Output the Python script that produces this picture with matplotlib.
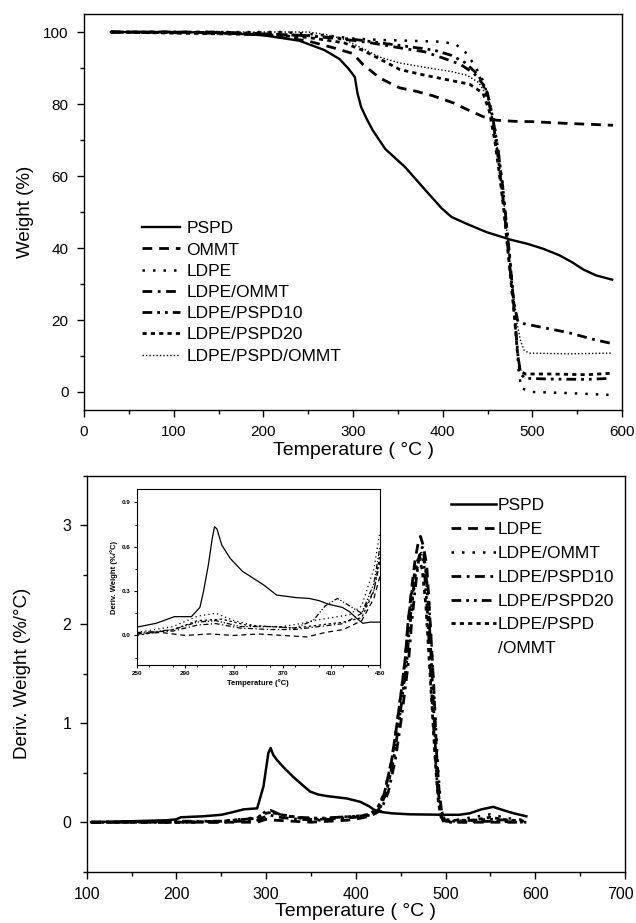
import matplotlib.pyplot as plt
from matplotlib.ticker import MultipleLocator, FixedLocator, FormatStrFormatter
from matplotlib.transforms import ScaledTranslation

plt.rcParams['font.family'] = ['Liberation Sans', 'DejaVu Sans']

# ---- TGA (top) ----
pspd_t = [30, 100, 150, 200, 240, 268, 285, 295, 302, 305, 309, 315, 322, 336, 358, 381,
          399, 410, 426, 449, 476, 494, 512, 530, 544, 557, 571, 589]
pspd_w = [100, 100, 99.8, 99.1, 97.6, 95, 92.5, 89.8, 87.5, 83, 79.2, 76, 72.7, 67.5, 62.5, 56,
          51, 48.6, 46.8, 44.4, 42.3, 41.2, 39.8, 38, 36.1, 34, 32.4, 31.2]

ommt_t = [30, 100, 150, 200, 250, 280, 300, 311, 330, 352, 371, 389, 412, 427, 445, 460, 480,
          500, 540, 590]
ommt_w = [100, 100, 99.8, 99.2, 97.5, 95.5, 94, 91, 87.2, 84.5, 83.5, 82.3, 80.3, 78.5, 76.5,
          75.5, 75.2, 75.1, 74.6, 74.1]

ldpe_t = [30, 150, 220, 250, 280, 300, 330, 360, 400, 415, 425, 435, 445, 452, 458, 463, 468,
          472, 476, 479, 482, 485, 488, 500, 540, 585]
ldpe_w = [100, 100, 100, 99.5, 98.8, 98.2, 97.8, 97.6, 97.3, 96.5, 94.5, 91, 86.5, 81, 74, 65,
          55, 45, 35, 25, 15, 5, 1, 0, -0.3, -0.8]

lo_t = [30, 150, 200, 250, 290, 320, 350, 380, 400, 420, 435, 445, 452, 458, 463, 468, 472,
        476, 480, 484, 490, 510, 540, 570, 588]
lo_w = [100, 100, 99.5, 99, 98, 97, 95.7, 94.5, 92.8, 91, 88.5, 85.5, 80, 72, 63, 52, 42,
        32, 24, 19.5, 19, 18, 16.5, 14.5, 13.5]

lp10_t = [30, 200, 250, 300, 330, 360, 390, 410, 425, 440, 450, 456, 462, 467, 471, 475, 478,
          481, 484, 487, 492, 520, 560, 588]
lp10_w = [100, 99.5, 99, 98, 97, 96, 95, 93.5, 91.5, 88, 83, 76, 67, 57, 47, 37, 28,
          19, 10, 5, 3.8, 3.6, 3.5, 3.8]

lp20_t = [30, 200, 250, 290, 310, 330, 352, 380, 410, 430, 445, 452, 458, 463, 468, 472, 476,
          480, 483, 486, 492, 520, 560, 588]
lp20_w = [100, 99.3, 98.5, 97, 95, 92.5, 89.6, 88, 86.5, 85.5, 83, 78, 70, 61, 51, 41, 31,
          21, 12, 6, 5, 5, 4.8, 5.2]

lpo_t = [30, 200, 250, 270, 290, 310, 330, 352, 380, 410, 427, 440, 450, 456, 462, 467, 471,
         475, 479, 483, 487, 491, 497, 540, 588]
lpo_w = [100, 100, 100, 99.3, 98, 95.5, 93, 91.4, 90.2, 89, 88, 86, 82, 75, 66, 56, 46,
         36, 27, 19, 14, 11.5, 10.8, 10.6, 10.8]

# ---- DTG (bottom) ----
d_pspd_t = [105, 150, 190, 200, 205, 230, 250, 262, 275, 290, 297, 302.5, 305, 308, 312, 320,
            330, 340, 349, 358, 368, 390, 405, 415, 420, 427, 440, 460, 500, 515, 527, 540,
            553, 565, 576, 590]
d_pspd_d = [0, 0.01, 0.02, 0.03, 0.05, 0.06, 0.075, 0.1, 0.13, 0.14, 0.36, 0.70, 0.75, 0.68,
            0.63, 0.55, 0.46, 0.38, 0.31, 0.28, 0.264, 0.24, 0.206, 0.16, 0.128, 0.105, 0.09,
            0.08, 0.075, 0.075, 0.09, 0.13, 0.155, 0.12, 0.09, 0.06]

d_ldpe_t = [105, 150, 200, 250, 290, 300, 310, 330, 350, 370, 390, 405, 415, 425, 432, 440,
            446, 451, 455, 458, 462, 466, 470, 472, 475, 479, 483, 487, 490, 493, 496, 500,
            520, 560, 590]
d_ldpe_d = [0, 0, 0, 0, 0, 0.03, 0.02, 0.01, 0, 0.01, 0.02, 0.04, 0.06, 0.12, 0.3, 0.63,
            1.0, 1.35, 1.65, 2.0, 2.35, 2.65, 2.85, 2.89, 2.8, 2.6, 2.0, 1.35, 0.7, 0.3, 0.08,
            0.01, 0, 0, 0]

d_lo_t = [105, 200, 250, 290, 300, 310, 330, 350, 380, 400, 415, 427, 434, 442, 448, 453, 457,
          460, 464, 468, 472, 474, 477, 481, 485, 489, 492, 495, 498, 510, 530, 550, 570, 590]
d_lo_d = [0, 0, 0.01, 0.05, 0.1, 0.09, 0.05, 0.03, 0.03, 0.05, 0.08, 0.14, 0.3, 0.63, 1.0, 1.35,
          1.65, 1.95, 2.3, 2.55, 2.68, 2.7, 2.6, 2.3, 1.7, 1.0, 0.5, 0.15, 0.03, 0.02, 0.05,
          0.08, 0.04, 0.02]

d_lp10_t = [105, 200, 250, 290, 300, 305, 315, 335, 360, 380, 400, 418, 428, 436, 444, 450,
            455, 459, 462, 466, 470, 474, 475, 478, 482, 486, 489, 492, 495, 498, 510, 550,
            590]
d_lp10_d = [0, 0, 0, 0.02, 0.06, 0.07, 0.05, 0.03, 0.02, 0.04, 0.05, 0.07, 0.12, 0.3, 0.63,
            1.0, 1.35, 1.65, 2.0, 2.35, 2.65, 2.78, 2.76, 2.55, 2.0, 1.3, 0.7, 0.3, 0.08,
            0.0, 0.0, 0.01, 0.0]

d_lp20_t = [105, 200, 250, 290, 298, 305, 315, 335, 360, 380, 400, 416, 426, 434, 442, 448,
            453, 457, 460, 464, 468, 471, 473, 476, 480, 484, 488, 491, 494, 497, 510, 550,
            590]
d_lp20_d = [0, 0.01, 0.01, 0.04, 0.1, 0.12, 0.08, 0.05, 0.04, 0.05, 0.06, 0.07, 0.13, 0.3,
            0.63, 1.0, 1.35, 1.65, 2.0, 2.35, 2.6, 2.7, 2.72, 2.6, 2.1, 1.4, 0.75, 0.35, 0.1,
            0.02, 0.01, 0.03, 0.01]

d_lpo_t = [105, 200, 250, 290, 300, 305, 320, 340, 360, 380, 400, 415, 424, 432, 440, 446, 451,
           455, 458, 462, 466, 469, 471, 474, 478, 482, 486, 489, 492, 495, 500, 530, 550, 570,
           590]
d_lpo_d = [0, 0, 0.01, 0.04, 0.09, 0.1, 0.07, 0.04, 0.03, 0.05, 0.06, 0.08, 0.14, 0.3, 0.63,
           1.0, 1.35, 1.65, 2.0, 2.3, 2.55, 2.65, 2.65, 2.55, 2.2, 1.6, 1.0, 0.55, 0.2, 0.05,
           0.02, 0.02, 0.05, 0.02, 0.01]

# ---- inset (own temperature scale as printed) ----
inset_ticks = [250, 290, 330, 370, 410, 450]
i_pspd_t = [250, 266, 281, 295, 302, 305, 309, 312, 314, 316, 320, 327, 337, 354, 365, 381,
            392, 400, 408, 419, 425, 430, 436, 442, 450]
i_pspd_d = [0.056, 0.082, 0.127, 0.127, 0.19, 0.3, 0.48, 0.65, 0.735, 0.72, 0.61, 0.52, 0.433,
            0.344, 0.273, 0.256, 0.25, 0.235, 0.21, 0.19, 0.16, 0.122, 0.082, 0.09, 0.09]
i_ldpe_t = [250, 270, 290, 310, 330, 350, 370, 390, 405, 420, 435, 445, 450]
i_ldpe_d = [0.01, 0.02, 0.0, 0.01, 0.0, 0.01, 0.0, -0.01, 0.02, 0.04, 0.1, 0.25, 0.4]
i_lo_t = [250, 280, 300, 315, 330, 350, 370, 385, 395, 410, 425, 435, 445, 450]
i_lo_d = [0.02, 0.06, 0.13, 0.15, 0.1, 0.06, 0.06, 0.08, 0.1, 0.12, 0.14, 0.2, 0.45, 0.7]
i_lp10_t = [250, 280, 300, 315, 335, 360, 380, 400, 420, 435, 445, 450]
i_lp10_d = [0.02, 0.03, 0.07, 0.08, 0.05, 0.04, 0.04, 0.06, 0.08, 0.15, 0.3, 0.5]
i_lp20_t = [250, 280, 300, 315, 335, 360, 380, 395, 405, 415, 425, 435, 445, 450]
i_lp20_d = [0.01, 0.04, 0.09, 0.1, 0.06, 0.06, 0.05, 0.1, 0.2, 0.25, 0.2, 0.15, 0.35, 0.6]
i_lpo_t = [250, 280, 300, 320, 340, 360, 380, 400, 420, 435, 445, 450]
i_lpo_d = [0.0, 0.04, 0.1, 0.11, 0.07, 0.06, 0.05, 0.07, 0.09, 0.12, 0.3, 0.55]

SOLID = '-'
DASH = (0, (3.5, 2.5))
DOT = (0, (1, 3.2))
DASHDOT = (0, (3.5, 2, 1, 2))
DASHDOTDOT = (0, (3.5, 1.8, 1, 1.8, 1, 1.8))
SHORTDASH = (0, (1.5, 1.5))
FINEDOT = (0, (1, 1.5))


def style_axes(ax, size=11):
    for sp in ax.spines.values():
        sp.set_linewidth(1.0)
    ax.tick_params(which='major', direction='out', length=5, width=1.0, labelsize=size, pad=6)
    ax.tick_params(which='minor', direction='out', length=3, width=1.0)


fig = plt.figure(figsize=(6.36, 9.23), dpi=100)

# top panel
ax1 = fig.add_axes([0.1321, 0.5558, 0.8459, 0.4290])
ax1.plot(pspd_t, pspd_w, color='k', ls=SOLID, lw=1.7, label='PSPD')
ax1.plot(ommt_t, ommt_w, color='k', ls=DASH, lw=2.0, label='OMMT')
ax1.plot(ldpe_t, ldpe_w, color='k', ls=DOT, lw=1.8, label='LDPE')
ax1.plot(lo_t, lo_w, color='k', ls=DASHDOT, lw=2.0, label='LDPE/OMMT')
ax1.plot(lp10_t, lp10_w, color='k', ls=DASHDOTDOT, lw=2.0, label='LDPE/PSPD10')
ax1.plot(lp20_t, lp20_w, color='k', ls=SHORTDASH, lw=2.0, label='LDPE/PSPD20')
ax1.plot(lpo_t, lpo_w, color='k', ls=FINEDOT, lw=1.0, label='LDPE/PSPD/OMMT')
ax1.set_xlim(0, 600)
ax1.set_ylim(-5, 105)
ax1.xaxis.set_major_locator(MultipleLocator(100))
ax1.xaxis.set_minor_locator(MultipleLocator(50))
ax1.yaxis.set_major_locator(MultipleLocator(20))
ax1.yaxis.set_minor_locator(MultipleLocator(10))
style_axes(ax1)
ax1.set_xlabel('Temperature ( °C )', fontsize=14, labelpad=2)
ax1.set_ylabel('Weight (%)', fontsize=13.5, labelpad=7)
ax1.legend(loc='upper left', bbox_to_anchor=(0.108, 0.477), frameon=False, fontsize=12.5,
           handlelength=2.2, handletextpad=0.35, labelspacing=0.35, borderpad=0, borderaxespad=0)

# bottom panel
ax2 = fig.add_axes([0.1363, 0.0556, 0.8464, 0.4287])
ax2.plot(d_pspd_t, d_pspd_d, color='k', ls=SOLID, lw=1.8, label='PSPD')
ax2.plot(d_ldpe_t, d_ldpe_d, color='k', ls=DASH, lw=2.0, label='LDPE')
ax2.plot(d_lo_t, d_lo_d, color='k', ls=DOT, lw=1.8, label='LDPE/OMMT')
ax2.plot(d_lp10_t, d_lp10_d, color='k', ls=DASHDOT, lw=2.0, label='LDPE/PSPD10')
ax2.plot(d_lp20_t, d_lp20_d, color='k', ls=DASHDOTDOT, lw=2.0, label='LDPE/PSPD20')
ax2.plot(d_lpo_t, d_lpo_d, color='k', ls=SHORTDASH, lw=2.0, label='LDPE/PSPD')
ax2.plot([], [], ls='none', label='/OMMT')
ax2.set_xlim(100, 700)
ax2.set_ylim(-0.5, 3.5)
ax2.xaxis.set_major_locator(FixedLocator([100, 200, 300, 400, 500, 600, 700]))
ax2.xaxis.set_minor_locator(MultipleLocator(50))
ax2.yaxis.set_major_locator(MultipleLocator(1))
ax2.yaxis.set_minor_locator(MultipleLocator(0.5))
style_axes(ax2, size=11.5)
ax2.set_xlabel('Temperature ( °C )', fontsize=14, labelpad=1)
ax2.set_ylabel('Deriv. Weight (%/°C)', fontsize=13.5, labelpad=23)
ax2.legend(loc='upper left', bbox_to_anchor=(0.677, 0.944), frameon=False, fontsize=12.5,
           handlelength=2.6, handletextpad=0.1, labelspacing=0.5, borderpad=0, borderaxespad=0)

# inset
ax3 = fig.add_axes([0.2149, 0.2795, 0.3825, 0.1907])
ax3.plot(i_pspd_t, i_pspd_d, color='k', ls=SOLID, lw=0.9)
ax3.plot(i_ldpe_t, i_ldpe_d, color='k', ls=(0, (4, 3)), lw=0.9)
ax3.plot(i_lo_t, i_lo_d, color='k', ls=(0, (1, 2.5)), lw=0.9)
ax3.plot(i_lp10_t, i_lp10_d, color='k', ls=(0, (4, 2, 1, 2)), lw=0.9)
ax3.plot(i_lp20_t, i_lp20_d, color='k', ls=(0, (4, 1.5, 1, 1.5, 1, 1.5)), lw=0.9)
ax3.plot(i_lpo_t, i_lpo_d, color='k', ls=(0, (2, 2)), lw=0.9)
ax3.set_xlim(250, 450)
ax3.set_ylim(-0.2, 0.99)
ax3.xaxis.set_major_locator(FixedLocator(inset_ticks))
ax3.xaxis.set_minor_locator(MultipleLocator(20))
ax3.yaxis.set_major_locator(MultipleLocator(0.3))
ax3.yaxis.set_minor_locator(MultipleLocator(0.15))
ax3.yaxis.set_major_formatter(FormatStrFormatter('%.1f'))
for sp in ax3.spines.values():
    sp.set_linewidth(0.8)
ax3.tick_params(which='major', direction='out', length=2.5, width=0.8, labelsize=4.5, pad=2)
ax3.tick_params(which='minor', direction='out', length=1.5, width=0.8)
for lab in ax3.get_xticklabels() + ax3.get_yticklabels():
    lab.set_fontweight('bold')
ax3.set_xlabel('Temperature (°C)', fontsize=5.5, fontweight='bold', labelpad=2)
ax3.set_ylabel('Deriv. Weight (%/°C)', fontsize=5.5, fontweight='bold', labelpad=3)

# the "700" label sits a little left of its tick, flush with the picture edge
fig.canvas.draw()
for tk in ax2.xaxis.get_major_ticks():
    if tk.get_loc() == 700:
        lab = tk.label1
        lab.set_transform(lab.get_transform() + ScaledTranslation(-0.045, 0, fig.dpi_scale_trans))

fig.savefig('out.png', dpi=100)
